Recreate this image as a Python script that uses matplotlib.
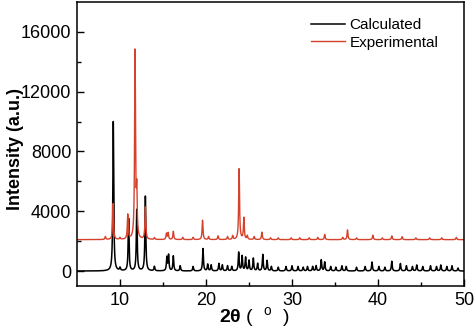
import matplotlib.pyplot as plt
import numpy as np

plt.rcParams['font.family'] = ['Liberation Sans', 'DejaVu Sans']
plt.rcParams['mathtext.fontset'] = 'custom'
plt.rcParams['mathtext.rm'] = 'Liberation Sans'
plt.rcParams['mathtext.bf'] = 'Liberation Sans:bold'

# Peak tables (2theta in degrees, intensity in counts)
calc_pos = [9.22, 10.0, 11.0, 11.95, 12.95, 14.0, 15.45, 15.65, 16.2, 17.0, 18.5,
            19.65, 20.2, 20.6, 21.5, 21.9, 22.5, 23.0, 23.8, 24.2, 24.6, 25.0,
            25.5, 26.0, 26.6, 27.1, 27.6, 28.4, 29.3, 30.0, 30.7, 31.3, 31.8,
            32.4, 32.8, 33.4, 33.8, 34.5, 35.1, 35.8, 36.3, 37.5, 38.5, 39.3,
            40.1, 40.8, 41.6, 42.6, 43.3, 44.0, 44.5, 45.2, 46.1, 46.8, 47.3,
            48.0, 48.6, 49.3]
calc_int = [10000, 200, 3500, 4100, 5000, 300, 900, 1050, 1000, 350, 300,
            1500, 450, 400, 500, 400, 350, 300, 1250, 1000, 900, 700,
            850, 500, 1100, 700, 300, 250, 300, 350, 300, 250, 300,
            300, 350, 750, 600, 300, 250, 350, 300, 250, 300, 600,
            300, 250, 650, 500, 350, 300, 400, 300, 350, 300, 400,
            300, 350, 200]

exp_base = 2100
exp_pos = [8.3, 9.2, 10.0, 10.9, 11.75, 11.95, 12.95, 14.0, 15.4, 15.6, 16.2,
           17.3, 18.5, 19.6, 20.3, 21.4, 22.5, 23.1, 23.85, 24.4, 24.8, 25.6,
           26.5, 27.5, 28.4, 29.9, 30.9, 32.0, 33.0, 33.8, 35.9, 36.45, 37.5,
           39.4, 40.5, 41.6, 42.8, 44.4, 46.0, 47.4, 49.1]
exp_int = [200, 2400, 120, 1650, 12500, 3000, 2150, 120, 400, 450, 550,
           150, 150, 1300, 200, 250, 200, 250, 4750, 1450, 250, 200,
           500, 120, 120, 120, 120, 120, 150, 350, 150, 650, 120,
           300, 120, 250, 200, 120, 120, 120, 150]

two_theta = np.linspace(5, 50, 4500)


def pattern(pos, inten, base, hw=0.06):
    y = np.full_like(two_theta, float(base))
    for p, h in zip(pos, inten):
        y += h * hw**2 / ((two_theta - p)**2 + hw**2)
    return y


fig = plt.figure(figsize=(4.74, 3.31), dpi=100)
ax = fig.add_axes([0.1624, 0.136, 0.8166, 0.858])

ax.plot(two_theta, pattern(calc_pos, calc_int, 0), color='black', lw=1.1, label='Calculated')
ax.plot(two_theta, pattern(exp_pos, exp_int, exp_base), color='#d6412c', lw=1.0, label='Experimental')

ax.set_xlim(5, 50)
ax.set_ylim(-1000, 18000)
ax.set_xticks([10, 20, 30, 40, 50])
ax.set_xticks([15, 25, 35, 45], minor=True)
ax.set_yticks([0, 4000, 8000, 12000, 16000])
ax.set_yticks([2000, 6000, 10000, 14000], minor=True)
ax.tick_params(which='major', direction='in', length=5, width=1, labelsize=13, pad=4)
ax.tick_params(which='minor', direction='in', length=3, width=1)
for s in ax.spines.values():
    s.set_linewidth(1.1)

ax.set_xlabel(r'$\mathbf{2\theta}$ (  $^{\rm o}$  )', fontsize=14)
ax.xaxis.set_label_coords(0.457, -0.068)
ax.set_ylabel('Intensity (a.u.)', fontsize=13, fontweight='bold')
ax.yaxis.set_label_coords(-0.137, 0.483)

ax.legend(loc='upper right', frameon=False, fontsize=11, handlelength=2.2,
          handletextpad=0.3, labelspacing=0.2, borderaxespad=0.4,
          bbox_to_anchor=(0.965, 0.985))

fig.savefig('out.png', dpi=100)
